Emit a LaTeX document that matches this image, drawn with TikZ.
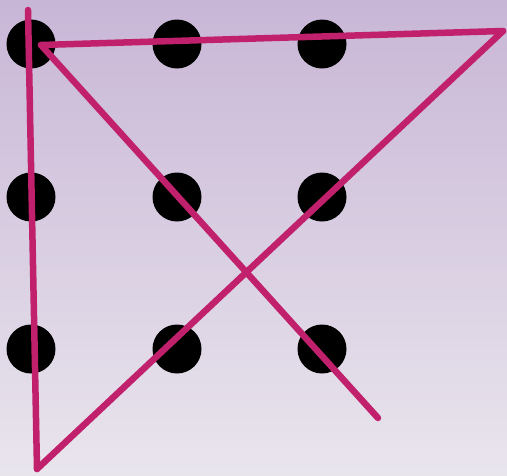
\documentclass[tikz,border=0pt]{standalone}
\begin{document}
\begin{tikzpicture}[x=1pt,y=-1pt,
  dot/.style={circle,fill=black,minimum size=49pt,inner sep=0pt},
  stroke/.style={draw=pinkline,line width=6.5pt,line cap=round}]
\definecolor{pinkline}{RGB}{192,32,108}
\definecolor{bgtop}{RGB}{200,182,214}
\definecolor{bgbot}{RGB}{233,229,237}
\shade[top color=bgtop,bottom color=bgbot] (0,0) rectangle (507,475);
\useasboundingbox (0,0) rectangle (507,475);
\foreach \i/\x in {1/31,2/177,3/322}{
  \foreach \j/\y in {1/44,2/197,3/349}{
    \node[dot] (d\i\j) at (\x,\y) {};
  }
}
\coordinate (a) at (28,10);
\coordinate (b) at (37,469);
\coordinate (c) at (503,31);
\coordinate (e) at (41,45);
\coordinate (f) at (378,418);
\draw[stroke] (a) -- (b);
\draw[stroke] (b) -- (c);
\draw[stroke] (c) -- (e);
\draw[stroke] (e) -- (f);
\end{tikzpicture}
\end{document}
